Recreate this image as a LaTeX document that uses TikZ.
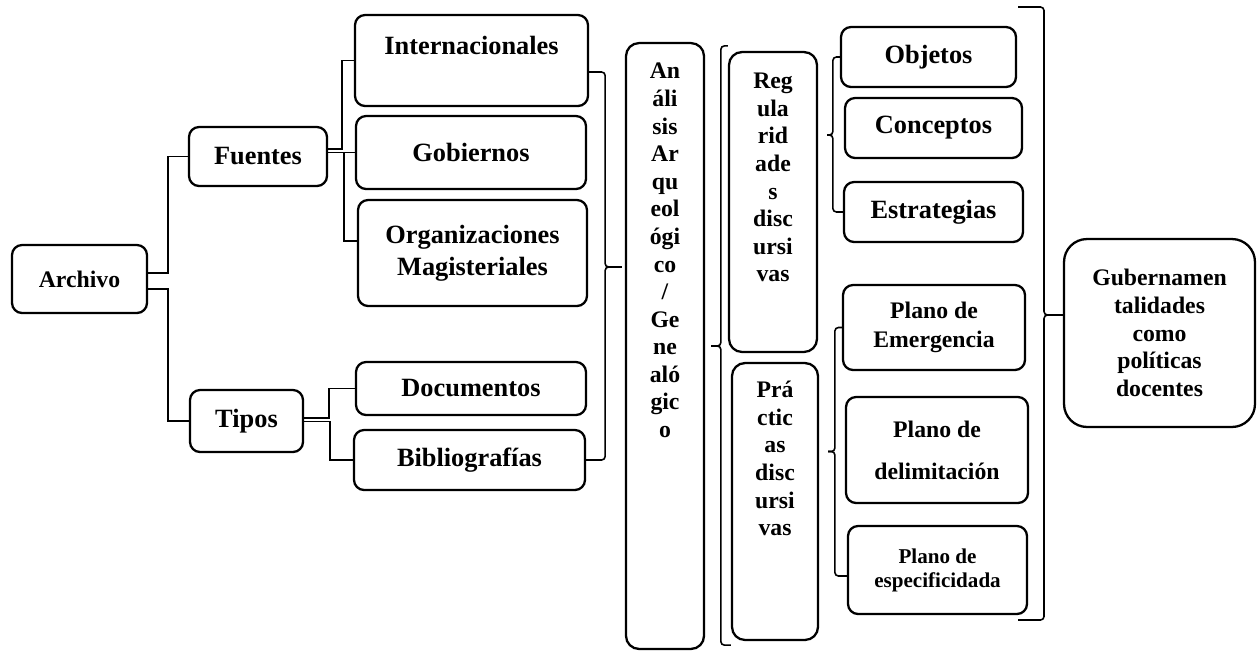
\documentclass[tikz,border=0pt]{standalone}
\usepackage{fontspec}
\setmainfont{Liberation Serif}
\usetikzlibrary{positioning, calc}
\tikzset{
  caja/.style={draw, line width=1.3pt, rounded corners=0.2cm, align=center, inner sep=0pt, font=\bfseries\fontsize{15}{17}\selectfont},
  cajc/.style={caja, font=\bfseries\fontsize{13.5}{16.5}\selectfont},
  vcaja/.style={caja, rounded corners=0.26cm},
  vtex/.style={align=center, inner sep=0pt, font=\bfseries\fontsize{13.5}{15.7}\selectfont},
  lin/.style={line width=0.9pt},
  brc/.style={line width=0.9pt, rounded corners=0.07cm}
}
\newcommand{\llave}[3]{\draw[brc] (#1) -- ++(#2,0) |- (#3);}

\begin{document}
\begin{tikzpicture}[x=0.02cm, y=-0.02cm]
	\useasboundingbox (0,0) rectangle (1257,650);
	\node[cajc, minimum width=2.70cm, minimum height=1.36cm] (arch) at (79.5,279) {Archivo};
	\node[caja, minimum width=2.76cm, minimum height=1.18cm] (fuen) at (258,156.5) {Fuentes};
	\node[caja, minimum width=2.26cm, minimum height=1.24cm] (tipo) at (246.5,421) {Tipos};
	\node[caja, minimum width=4.66cm, minimum height=1.82cm] (intl) at (471.5,60.5) {Internacionales\\ \mbox{}};
	\node[caja, minimum width=4.60cm, minimum height=1.46cm] (gobi) at (471,152.5) {Gobiernos};
	\node[caja, minimum width=4.58cm, minimum height=2.12cm, font=\bfseries\fontsize{15}{18}\selectfont] (orga) at (472.5,253) {Organizaciones\\Magisteriales};
	\node[caja, minimum width=4.60cm, minimum height=1.06cm] (docu) at (471,388.5) {Documentos};
	\node[caja, minimum width=4.62cm, minimum height=1.20cm] (bibl) at (469.5,460) {Bibliografías};
	\node[vcaja, minimum width=1.56cm, minimum height=12.12cm] (anal) at (665,346) {};
	\node[vtex, below=0.42cm of anal.north] (analt) {An\\áli\\sis\\Ar\\qu\\eol\\ógi\\co\\/\\Ge\\ne\\aló\\gic\\o};
	\node[vcaja, minimum width=1.76cm, minimum height=6.00cm] (regu) at (773,202) {};
	\node[vtex, below=0.44cm of regu.north] (regut) {Reg\\ula\\rid\\ade\\s\\disc\\ursi\\vas};
	\node[vcaja, minimum width=1.72cm, minimum height=5.54cm] (prac) at (775,501.5) {};
	\node[vtex, below=0.38cm of prac.north] (pract) {Prá\\ctic\\as\\disc\\ursi\\vas};
	\node[caja, minimum width=3.50cm, minimum height=1.20cm] (obje) at (928.5,57) {Objetos};
	\node[caja, minimum width=3.54cm, minimum height=1.20cm] (conc) at (933.5,128) {Conceptos};
	\node[caja, minimum width=3.58cm, minimum height=1.20cm] (estr) at (933.5,212) {Estrategias};
	\node[cajc, minimum width=3.64cm, minimum height=1.70cm] (emer) at (934,327.5) {Plano de\\Emergencia};
	\node[cajc, minimum width=3.64cm, minimum height=2.12cm, font=\bfseries\fontsize{13.5}{24}\selectfont] (deli) at (937,450) {Plano de\\delimitación};
	\node[cajc, minimum width=3.58cm, minimum height=1.76cm, font=\bfseries\fontsize{12}{13.7}\selectfont] (espe) at (937.5,570) {Plano de\\especificidada};
	\node[cajc, minimum width=3.82cm, minimum height=3.76cm, rounded corners=0.46cm, font=\bfseries\fontsize{13.5}{15.7}\selectfont] (gube) at (1159.5,333) {Gubernamen\\talidades\\como\\políticas\\docentes};
	\draw[lin] ($(arch.east)+(0,-6)$) -- ++(20,0) |- (fuen.west);
	\draw[lin] ($(arch.east)+(0,10)$) -- ++(20,0) |- (tipo.west);
	\draw[lin] ($(fuen.east)+(0,-7.5)$) -- ++(14,0) |- (intl.west);
	\draw[lin] (fuen.east |- gobi.west) -- (gobi.west);
	\draw[lin] ($(fuen.east |- gobi.west)+(16,0)$) |- ($(orga.west)+(0,-12)$);
	\draw[lin] ($(tipo.east)+(0,-3)$) -- ++(25,0) |- (docu.west);
	\draw[lin] ($(tipo.east)+(0,0.5)$) -- ++(26,0) |- (bibl.west);
	\coordinate (t1) at ($(anal.west)+(-3,-79)$);
	\llave{$(intl.east)+(0,11.5)$}{16}{t1}
	\llave{bibl.east}{19}{t1}
	\coordinate (t2) at ($(anal.east)+(6,0)$);
	\llave{$(regu.north west)+(0,-5)$}{-7}{t2}
	\llave{$(prac.south west)+(0,4)$}{-10}{t2}
	\coordinate (t3) at ($(regu.east)+(9,-67)$);
	\llave{obje.west}{-7}{t3}
	\llave{estr.west}{-10}{t3}
	\coordinate (t4) at ($(prac.east)+(9,-50)$);
	\llave{emer.west}{-7}{t4}
	\llave{$(espe.west)+(0,6)$}{-12}{t4}
	\coordinate (t5) at ($(gube.west)+(0,-18)$);
	\coordinate (b5t) at (1018,7);
	\coordinate (b5b) at (1018,620);
	\llave{b5t}{26}{t5}
	\llave{b5b}{26}{t5}
\end{tikzpicture}
\end{document}
